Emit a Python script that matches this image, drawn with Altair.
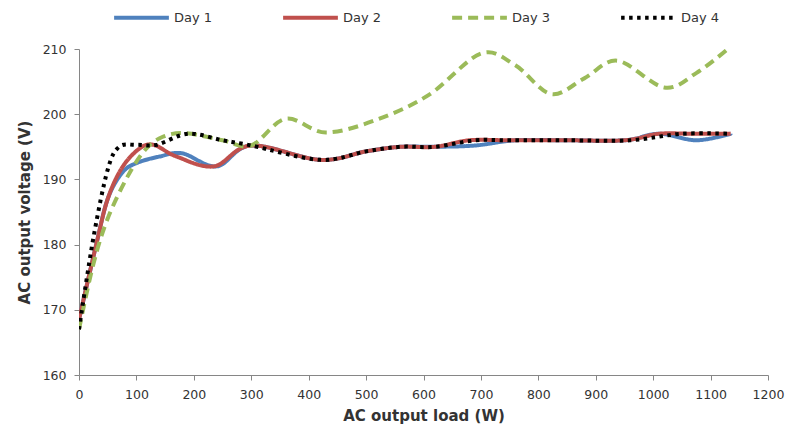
import altair as alt
import pandas as pd

days = ["Day 1", "Day 2", "Day 3", "Day 4"]
colors = ["#4F81BD", "#C0504D", "#9BBB59", "#000000"]

day1_load = [0, 30, 50, 75, 100, 140, 180, 240, 300, 420, 500, 560, 620, 690, 760, 850, 950, 1010, 1075, 1135]
day1_volt = [168.5, 180, 187, 191, 192.5, 193.5, 194, 192, 195.2, 193, 194.3, 195, 195, 195.2, 196, 196, 196, 197, 196, 197]

day2_load = [0, 30, 50, 75, 105, 130, 170, 235, 300, 420, 500, 560, 620, 680, 750, 850, 950, 1010, 1070, 1135]
day2_volt = [168.5, 180, 187, 191.8, 194.7, 195.3, 193.5, 192, 195.2, 193, 194.3, 195, 195, 196, 196, 196, 196, 197, 197, 197]

day3_load = [0, 25, 50, 85, 115, 145, 185, 250, 300, 360, 430, 520, 610, 700, 760, 822, 880, 938, 1019, 1075, 1130]
day3_volt = [167, 177, 184, 190.5, 194.5, 196.5, 197.1, 196, 195.2, 199.3, 197.2, 199.2, 203, 209.3, 207.5, 203.1, 205.5, 208.2, 204.1, 206.3, 210]

day4_load = [0, 25, 50, 70, 100, 135, 190, 250, 300, 420, 500, 560, 620, 690, 750, 850, 960, 1050, 1135]
day4_volt = [167, 181, 191.5, 195, 195.3, 195.3, 197, 196, 195.2, 193, 194.3, 195, 195, 196, 196, 196, 196, 197, 197]

x_ticks = list(range(0, 1201, 100))
y_ticks = [160, 170, 180, 190, 200, 210]

rows = []
for name, xs, vs in zip(days, [day1_load, day2_load, day3_load, day4_load],
                        [day1_volt, day2_volt, day3_volt, day4_volt]):
    for x, v in zip(xs, vs):
        rows.append({"day": name, "load": x, "voltage": v})
df = pd.DataFrame(rows)

FONT = "DejaVu Sans"
TXT = "#333333"

legend = alt.Legend(
    title=None,
    orient="none",
    legendX=33,
    legendY=-61,
    direction="horizontal",
    symbolType="stroke",
    symbolSize=3000,
    symbolStrokeWidth=4,
    labelFontSize=13,
    labelFont=FONT,
    labelColor=TXT,
    labelOffset=3,
    columnPadding=62,
)

chart = alt.Chart(df).mark_line(
    interpolate="cardinal", strokeWidth=4, strokeCap="butt", clip=True
).encode(
    x=alt.X("load:Q",
            scale=alt.Scale(domain=[0, 1200], nice=False),
            axis=alt.Axis(values=x_ticks, format="d", labelFlush=False,
                          title="AC output load (W)", titlePadding=8)),
    y=alt.Y("voltage:Q",
            scale=alt.Scale(domain=[160, 210], nice=False, zero=False),
            axis=alt.Axis(values=y_ticks, format="d", labelFlush=False,
                          title="AC output voltage (V)", titlePadding=10)),
    color=alt.Color("day:N", scale=alt.Scale(domain=days, range=colors), legend=legend),
    strokeDash=alt.StrokeDash("day:N",
                              scale=alt.Scale(domain=days, range=[[1, 0], [1, 0], [10, 6], [3.5, 4.5]]),
                              legend=legend),
).properties(
    width=689,
    height=326,
    autosize=alt.AutoSizeParams(type="none"),
    padding={"left": 71, "top": 41, "right": 17, "bottom": 51},
).configure_view(
    stroke=None
).configure_axis(
    grid=False,
    domainColor="#868686",
    tickColor="#868686",
    tickSize=5,
    labelPadding=8,
    labelFont=FONT,
    labelFontSize=12.5,
    labelColor=TXT,
    titleFont=FONT,
    titleFontSize=15,
    titleFontWeight="bold",
    titleColor=TXT,
)

chart.save("out.html", embed_options={"renderer": "svg", "actions": False})
